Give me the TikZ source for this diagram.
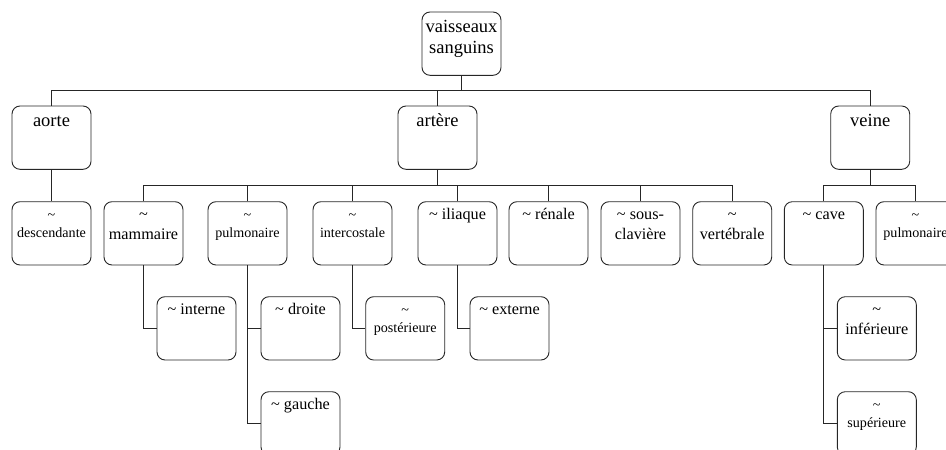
\documentclass[tikz,border=0pt]{standalone}
\usepackage{fontspec}
\setmainfont{Liberation Serif}
% fixed-height strut so every label's first baseline sits at a known depth
\newcommand\st{\rule{0pt}{14pt}}
\newcommand\tl{\textasciitilde}
\newcommand\fbig{\fontsize{18.5pt}{21pt}\selectfont}
\newcommand\fmid{\fontsize{16.2pt}{19.3pt}\selectfont}
\newcommand\fsml{\fontsize{14.1pt}{17.8pt}\selectfont}
\begin{document}
\begin{tikzpicture}[x=1pt,y=-1pt,
  vbox/.style={draw=black!85, line width=0.9pt, rounded corners=8pt,
    minimum width=79pt, minimum height=63.3pt, inner sep=0pt},
  lbl/.style={anchor=north, inner sep=0pt, align=center},
  link/.style={draw=black!85, line width=0.9pt}]
\useasboundingbox (0,0) rectangle (946,450);
\clip (0,0) rectangle (946,450);
% box: name, left, top
\newcommand\bx[3]{\node[vbox] (#1) at (#2+39.5,#3+31.65) {};}
% label: box name, font, gap below the box top, text
\newcommand\lb[4]{\node[lbl,font=#2] (#1-t) at ([yshift=-#3pt]#1.north) {#4};}

% root and first level
\bx{vs}{422}{12}
\bx{aorte}{12}{106}
\bx{artere}{398}{106}
\bx{veine}{830.7}{106}
% second level
\bx{desc}{12}{201.7}
\bx{mamm}{104}{201.7}
\bx{pulm}{208}{201.7}
\bx{inter}{313}{201.7}
\bx{ilia}{418}{201.7}
\bx{ren}{509}{201.7}
\bx{sous}{601}{201.7}
\bx{vert}{692.7}{201.7}
\bx{cave}{784.3}{201.7}
\bx{vpulm}{876}{201.7}
% third level
\bx{intern}{157}{296.7}
\bx{droite}{261}{296.7}
\bx{gauche}{261}{391.7}
\bx{post}{365.7}{296.7}
\bx{ext}{470}{296.7}
\bx{inf}{837.3}{296.7}
\bx{sup}{837.3}{391.7}

% labels
\lb{vs}{\fbig}{6.3}{\st vaisseaux\\\st sanguins}
\lb{aorte}{\fbig}{6.5}{\st aorte}
\lb{artere}{\fbig}{6.5}{\st artère}
\lb{veine}{\fbig}{6.5}{\st veine}
\lb{desc}{\fsml}{4}{\st\tl\\\st descendante}
\lb{mamm}{\fmid}{4.5}{\st\tl\\\st mammaire}
\lb{pulm}{\fsml}{4}{\st\tl\\\st pulmonaire}
\lb{inter}{\fsml}{4}{\st\tl\\\st intercostale}
\lb{ilia}{\fmid}{4.5}{\st\tl{} iliaque}
\lb{ren}{\fmid}{4.5}{\st\tl{} rénale}
\lb{sous}{\fmid}{4.5}{\st\tl{} sous-\\\st clavière}
\lb{vert}{\fmid}{4.5}{\st\tl\\\st vertébrale}
\lb{cave}{\fmid}{4.5}{\st\tl{} cave}
\lb{vpulm}{\fsml}{4}{\st\tl\\\st pulmonaire}
\lb{intern}{\fmid}{4.5}{\st\tl{} interne}
\lb{droite}{\fmid}{4.5}{\st\tl{} droite}
\lb{gauche}{\fmid}{4.5}{\st\tl{} gauche}
\lb{post}{\fsml}{4}{\st\tl\\\st postérieure}
\lb{ext}{\fmid}{4.5}{\st\tl{} externe}
\lb{inf}{\fmid}{4.5}{\st\tl\\\st inférieure}
\lb{sup}{\fsml}{4}{\st\tl\\\st supérieure}

% tree connectors
\draw[link] (vs.south) -- ++(0,15) coordinate (b0);
\draw[link] (aorte.north) |- (b0) -| (veine.north);
\draw[link] (artere.north) -- (artere.north |- b0);
\draw[link] (aorte.south) -- (desc.north);
\draw[link] (artere.south) -- ++(0,16) coordinate (b1);
\draw[link] (mamm.north) |- (b1) -| (vert.north);
\foreach \n in {pulm,inter,ilia,ren,sous}
  \draw[link] (\n.north) -- (\n.north |- b1);
\draw[link] (veine.south) -- ++(0,16) coordinate (b2);
\draw[link] (cave.north) |- (b2) -| (vpulm.north);
\draw[link] (mamm.south) |- (intern.west);
\draw[link] (pulm.south) |- (gauche.west);
\draw[link] (droite.west) -- (droite.west -| pulm.south);
\draw[link] (inter.south) |- (post.west);
\draw[link] (ilia.south) |- (ext.west);
\draw[link] (cave.south) |- (sup.west);
\draw[link] (inf.west) -- (inf.west -| cave.south);
\end{tikzpicture}
\end{document}
